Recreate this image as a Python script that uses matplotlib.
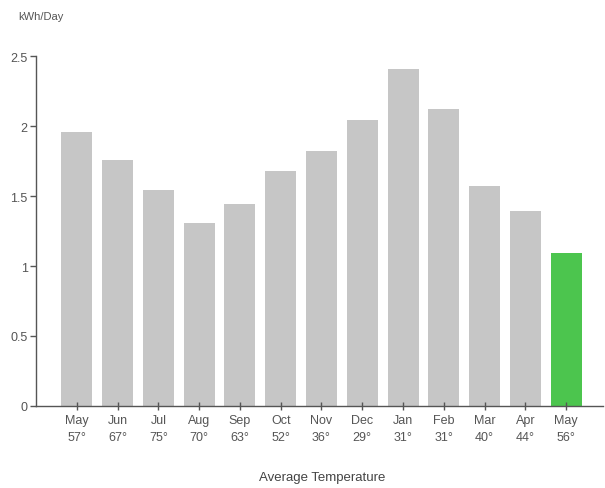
import matplotlib
matplotlib.use("Agg")
import matplotlib.pyplot as plt

months = ["May", "Jun", "Jul", "Aug", "Sep", "Oct", "Nov", "Dec", "Jan", "Feb", "Mar", "Apr", "May"]
temps = ["57°", "67°", "75°", "70°", "63°", "52°", "36°", "29°", "31°", "31°", "40°", "44°", "56°"]
kwh = [1.96, 1.76, 1.54, 1.31, 1.44, 1.68, 1.82, 2.04, 2.41, 2.12, 1.57, 1.39, 1.09]
yticks = [0, 0.5, 1, 1.5, 2, 2.5]
ytick_labels = ["0", "0.5", "1", "1.5", "2", "2.5"]

plt.rcParams['font.family'] = ['Liberation Sans', 'DejaVu Sans']
fig = plt.figure(figsize=(6.05, 4.89), dpi=100)
ax = fig.add_axes([0.0595, 0.1677, 0.937, 0.7157])

colors = ["#c6c6c6"] * (len(kwh) - 1) + ["#4cc54e"]
x = list(range(len(kwh)))
ax.bar(x, kwh, width=0.76, color=colors, edgecolor='none')

ax.set_xlim(-1.0, 12.9)
ax.set_ylim(0, 2.5)
ax.set_yticks(yticks)
ax.set_yticklabels(ytick_labels)
ax.set_xticks(x)
ax.set_xticklabels([f"{m}\n{t}" for m, t in zip(months, temps)], linespacing=1.55)

for s in ["top", "right"]:
    ax.spines[s].set_visible(False)
for s in ["left", "bottom"]:
    ax.spines[s].set_color("#555555")
    ax.spines[s].set_linewidth(1.0)

ax.tick_params(axis='both', colors="#555555", labelcolor="#555555", labelsize=9, length=4, width=1)
ax.tick_params(axis='x', direction='inout', length=6, pad=3)
ax.tick_params(axis='y', pad=2)

ax.set_xlabel("Average Temperature", fontsize=9.5, color="#444444")
ax.xaxis.set_label_coords(0.505, -0.185)
fig.text(0.03, 0.965, "kWh/Day", fontsize=8, color="#555555", ha='left', va='center')

fig.savefig("out.png", dpi=100)
